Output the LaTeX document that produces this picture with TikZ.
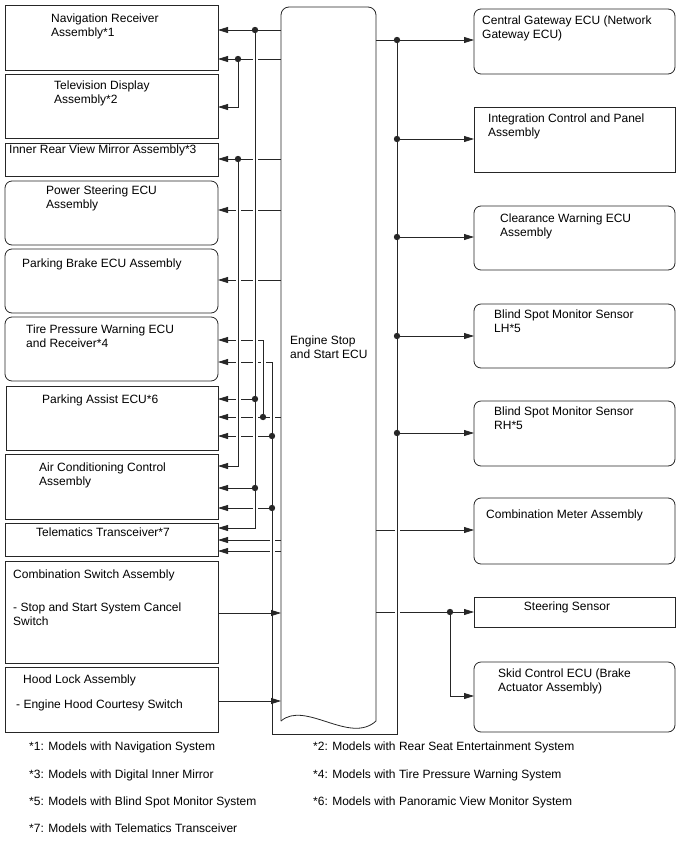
\documentclass[tikz,border=0pt]{standalone}
\usepackage{fontspec}
\setmainfont{Liberation Sans}
\usetikzlibrary{arrows.meta}

\newcommand{\fs}{\fontsize{12}{14}\selectfont}
% box given by its corners: name, style, x1, y1, x2, y2
\newcommand{\ebox}[6]{%
  \node[#2, minimum width={(#5-#3)*1pt}, minimum height={(#6-#4)*1pt}]
    (#1) at ({(#3+#5)/2},{(#4+#6)/2}) {};}

\tikzset{
  unit/.style={draw=black!85, line width=0.8pt, inner sep=0, outer sep=0},
  runit/.style={unit, rounded corners=7pt},
  txt/.style={anchor=base west, inner sep=0, align=left, font=\fs},
  wire/.style={draw=black!85, line width=0.8pt},
  sig/.style={wire, -{Triangle[length=10pt,width=6pt]}},
}

\begin{document}
\begin{tikzpicture}[x=1pt,y=-1pt]
\useasboundingbox (0,0) rectangle (688,852);

% left units
\ebox{nav}{unit}{5}{5}{218}{70}
\ebox{tv}{unit}{5}{74}{218}{138}
\ebox{mirror}{unit}{5}{143}{218}{176}
\ebox{ps}{runit}{5}{181}{218}{245}
\ebox{pb}{runit}{5}{249}{218}{313}
\ebox{tpw}{runit}{5}{317}{218}{381}
\ebox{pa}{unit}{6}{386}{218}{450}
\ebox{ac}{unit}{5}{454}{218}{519}
\ebox{tel}{unit}{5}{523}{218}{556}
\ebox{cs}{unit}{5}{561}{218}{663}
\ebox{hl}{unit}{5}{667}{218}{732}

% right units
\ebox{cgw}{runit}{474}{9}{675}{74}
\ebox{icp}{unit}{474}{107}{675}{172}
\ebox{cw}{runit}{474}{206}{675}{270}
\ebox{bsl}{runit}{474}{304}{675}{368}
\ebox{bsr}{runit}{474}{401}{675}{466}
\ebox{cm}{runit}{474}{498}{675}{564}
\ebox{ss}{unit}{474}{597}{675}{627}
\ebox{skid}{runit}{474}{662}{675}{732}

% engine stop and start ECU
\node[inner sep=0, outer sep=0, minimum width=95pt, minimum height=714pt] (ecu) at (328.5,364) {};
\draw[wire, rounded corners=8pt] (281,721) -- (281,7) -- (376,7) -- (376,721);
\draw[wire] (281,721) .. controls (305,700) and (350,745) .. (376,721);

% labels (base = last line)
\node[txt] (navt) at (51,36) {Navigation Receiver\\Assembly*1};
\node[txt] (tvt) at (54,103) {Television Display\\Assembly*2};
\node[txt] (mirt) at (9,153) {Inner Rear View Mirror Assembly*3};
\node[txt] (pst) at (46,208) {Power Steering ECU\\Assembly};
\node[txt] (pbt) at (22,267) {Parking Brake ECU Assembly};
\node[txt] (tpwt) at (26,347) {Tire Pressure Warning ECU\\and Receiver*4};
\node[txt] (pat) at (42,403) {Parking Assist ECU*6};
\node[txt] (act) at (39,485) {Air Conditioning Control\\Assembly};
\node[txt] (telt) at (36,536) {Telematics Transceiver*7};
\node[txt] (cst) at (13,578) {Combination Switch Assembly};
\node[txt] (cst2) at (13,625) {- Stop and Start System Cancel\\Switch};
\node[txt] (hlt) at (23,683) {Hood Lock Assembly};
\node[txt] (hlt2) at (16,708) {- Engine Hood Courtesy Switch};
\node[txt] (ecut) at (290,358) {Engine Stop\\and Start ECU};
\node[txt] (cgwt) at (482,38) {Central Gateway ECU (Network\\Gateway ECU)};
\node[txt] (icpt) at (488,136) {Integration Control and Panel\\Assembly};
\node[txt] (cwt) at (500,236) {Clearance Warning ECU\\Assembly};
\node[txt] (bslt) at (494,332) {Blind Spot Monitor Sensor\\LH*5};
\node[txt] (bsrt) at (494,429) {Blind Spot Monitor Sensor\\RH*5};
\node[txt] (cmt) at (486,518) {Combination Meter Assembly};
\node[txt, anchor=base] (sst) at (567,610) {Steering Sensor};
\node[txt] (skidt) at (498,691) {Skid Control ECU (Brake\\Actuator Assembly)};

% footnotes
\node[txt] (n1) at (29,750) {*1: Models with Navigation System};
\node[txt] (n2) at (313,750) {*2: Models with Rear Seat Entertainment System};
\node[txt] (n3) at (29,778) {*3: Models with Digital Inner Mirror};
\node[txt] (n4) at (313,778) {*4: Models with Tire Pressure Warning System};
\node[txt] (n5) at (29,805) {*5: Models with Blind Spot Monitor System};
\node[txt] (n6) at (313,805) {*6: Models with Panoramic View Monitor System};
\node[txt] (n7) at (29,832) {*7: Models with Telematics Transceiver};

% junctions
\coordinate (jnav1) at (255,30);
\coordinate (jnav2) at (238,59);
\coordinate (jmir) at (238,159);
\coordinate (jpa) at (263,417);
\coordinate (jcgw) at (397,40);
\coordinate (jss) at (450,612);
\coordinate (loopr) at (397,734);
\coordinate (loopl) at (272,734);

% ECU outputs, left side
\foreach \y/\n in {30/nav,59/nav,159/mirror,210/ps,280/pb,417/pa,540/tel,551/tel}
  \draw[sig] (ecu.west |- 0,\y) -- (\n.east |- 0,\y);
\draw[sig] (jnav2) |- (tv.east |- 0,107);
\draw[sig] (jmir) |- (ac.east |- 0,466);
\draw[sig] (jnav1) |- (tel.east |- 0,528);
\draw[sig] (jpa) |- (tpw.east |- 0,340);
\draw[sig] (jcgw) -- (loopr) -- (loopl) |- (tpw.east |- 0,362);
\foreach \x/\y/\n in {255/399/pa,255/488/ac,272/436/pa,272/508/ac}
  \draw[sig] (\x,\y) -- (\n.east |- 0,\y);

% ECU outputs, right side
\draw[sig] (ecu.east |- jcgw) -- (cgw.west |- jcgw);
\foreach \y/\n in {139/icp,237/cw,336/bsl,433/bsr}
  \draw[sig] (397,\y) -- (\n.west |- 0,\y);
\draw[sig] (ecu.east |- 0,530) -- (cm.west |- 0,530);
\draw[sig] (ecu.east |- jss) -- (ss.west |- jss);
\draw[sig] (jss) |- (skid.west |- 0,696);

% crossings: break the horizontal lines
\foreach \x/\a/\b in {238/59/107,238/159/466,255/30/528,263/340/417,272/362/734,397/40/734,450/612/696}{
  \draw[white, line width=5pt] (\x,\a+3) -- (\x,\b-3);
  \draw[wire] (\x,\a) -- (\x,\b);
}

% dots
\foreach \p in {(255,30),(238,59),(238,159),(255,399),(263,417),(272,436),(255,488),(272,508),
                (397,40),(397,139),(397,237),(397,336),(397,433),(450,612)}
  \fill[black!85] \p circle (3.2pt);

% switch inputs
\draw[sig] (cs.east |- 0,613) -- (ecu.west |- 0,613);
\draw[sig] (hl.east |- 0,701) -- (ecu.west |- 0,701);
\end{tikzpicture}
\end{document}
